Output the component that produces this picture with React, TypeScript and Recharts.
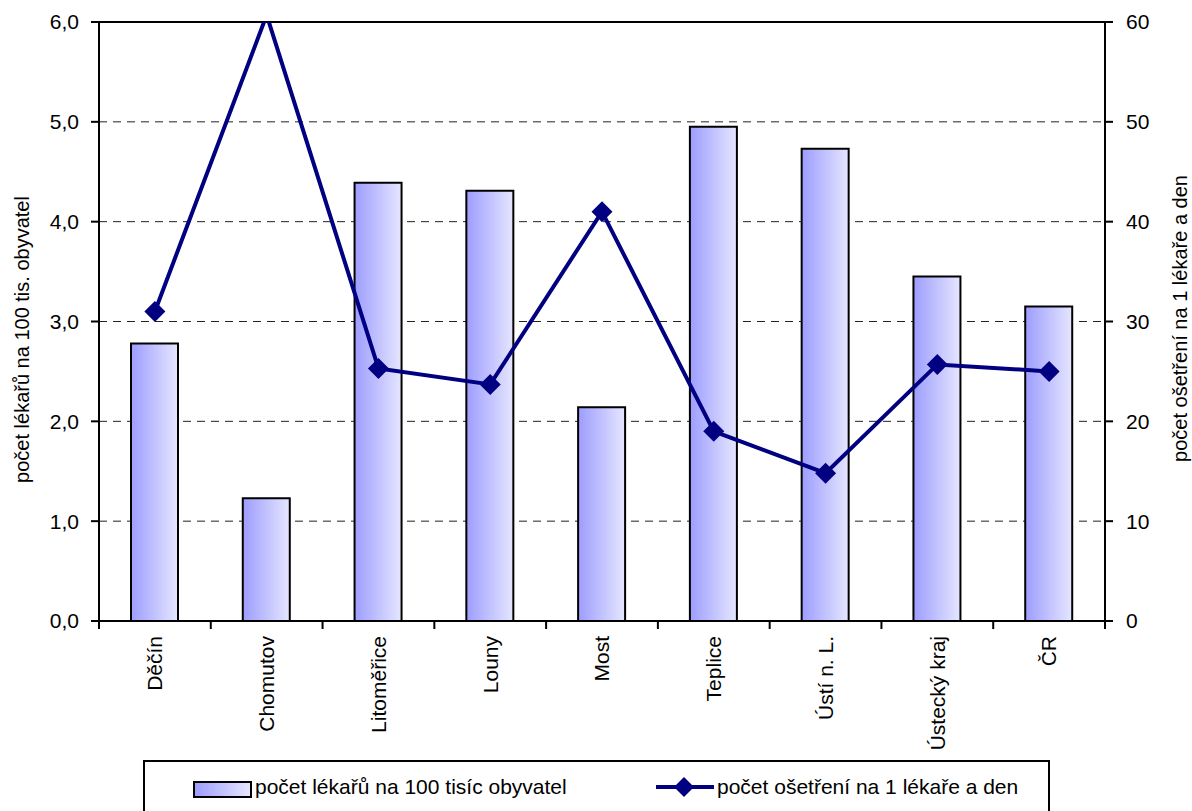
import React from 'react';
import { ComposedChart, Bar, Line, XAxis, YAxis, CartesianGrid, ReferenceLine, Legend } from 'recharts';

// districts of Ústecký kraj + region + whole country
const districts = ['Děčín', 'Chomutov', 'Litoměřice', 'Louny', 'Most', 'Teplice', 'Ústí n. L.', 'Ústecký kraj', 'ČR'];
const doctorsPer100k = [2.78, 1.23, 4.39, 4.31, 2.14, 4.95, 4.73, 3.45, 3.15];
const treatmentsPerDoctorDay = [31.0, 60.7, 25.3, 23.7, 41.0, 19.0, 14.8, 25.7, 25.0];
const leftTicks = [0, 1, 2, 3, 4, 5, 6];
const rightTicks = [0, 10, 20, 30, 40, 50, 60];

const barName = 'počet lékařů na 100 tisíc obyvatel';
const lineName = 'počet ošetření na 1 lékaře a den';
const leftTitle = 'počet lékařů na 100 tis. obyvatel';
const rightTitle = 'počet ošetření na 1 lékaře a den';

const data = districts.map((name, i) => ({
  name,
  doctors: doctorsPer100k[i],
  treatments: treatmentsPerDoctorDay[i],
}));

const W = 1192;
const H = 811;
const LEFT_W = 99;
const RIGHT_W = 87;
const TOP = 22;
const XAXIS_H = 190;
const BAND = (W - LEFT_W - RIGHT_W) / districts.length;
const FONT = '"Liberation Sans", Arial, sans-serif';
const NAVY = '#000080';

function CategoryTick(props: any) {
  const { x, y, payload, index } = props;
  const half = BAND / 2;
  return (
    <g>
      <line x1={x - half} y1={y} x2={x - half} y2={y + 8} stroke="#000" strokeWidth={2} />
      {index === districts.length - 1 && (
        <line x1={x + half} y1={y} x2={x + half} y2={y + 8} stroke="#000" strokeWidth={2} />
      )}
      <text
        x={x}
        y={y + 15}
        transform={`rotate(-90, ${x}, ${y + 15})`}
        textAnchor="end"
        dy="0.35em"
        fontSize={21}
        fontFamily={FONT}
        fill="#000"
      >
        {payload.value}
      </text>
    </g>
  );
}

function Diamond(props: any) {
  const { cx, cy, value } = props;
  if (cx == null || cy == null || value > 60) return null;
  const r = 10.5;
  return (
    <polygon
      points={`${cx},${cy - r} ${cx + r},${cy} ${cx},${cy + r} ${cx - r},${cy}`}
      fill={NAVY}
    />
  );
}

function axisTitle(text: string, cx: number, dy: number) {
  return (props: any) => {
    const vb = props.viewBox || {};
    const cy = (vb.y ?? TOP) + (vb.height ?? H - TOP - XAXIS_H) / 2 + dy;
    return (
      <text
        x={cx}
        y={cy}
        transform={`rotate(-90, ${cx}, ${cy})`}
        textAnchor="middle"
        dominantBaseline="central"
        fontSize={20}
        fontFamily={FONT}
        fill="#000"
      >
        {text}
      </text>
    );
  };
}

function ChartLegend() {
  return (
    <div
      style={{
        position: 'relative',
        width: 907,
        height: 64,
        border: '2px solid #000',
        boxSizing: 'border-box',
        background: '#fff',
        fontFamily: FONT,
        fontSize: 21,
        color: '#000',
      }}
    >
      <div
        style={{
          position: 'absolute',
          left: 48,
          top: 19,
          width: 59,
          height: 17,
          border: '2px solid #000',
          boxSizing: 'border-box',
          background: 'linear-gradient(to right, #9d9dff, #e6e6ff)',
        }}
      />
      <div style={{ position: 'absolute', left: 110, top: 12, lineHeight: '26px', whiteSpace: 'nowrap' }}>{barName}</div>
      <svg style={{ position: 'absolute', left: 510, top: 12 }} width={60} height={26}>
        <line x1={1} y1={13} x2={59} y2={13} stroke={NAVY} strokeWidth={4} />
        <polygon points="29,3 39,13 29,23 19,13" fill={NAVY} />
      </svg>
      <div style={{ position: 'absolute', left: 572, top: 12, lineHeight: '26px', whiteSpace: 'nowrap' }}>{lineName}</div>
    </div>
  );
}

export default function App() {
  return (
    <div style={{ position: 'absolute', left: 0, top: 0, width: W, height: H, overflow: 'hidden', background: '#fff' }}>
      <ComposedChart width={W} height={H} data={data} margin={{ top: TOP, right: 0, bottom: 0, left: 0 }}>
        <defs>
          <linearGradient id="barGrad" x1="0" y1="0" x2="1" y2="0">
            <stop offset="0%" stopColor="#9d9dff" />
            <stop offset="100%" stopColor="#e6e6ff" />
          </linearGradient>
        </defs>
        <CartesianGrid yAxisId="left" vertical={false} stroke="#222" strokeDasharray="8 6" />
        <XAxis
          dataKey="name"
          height={XAXIS_H}
          interval={0}
          tickSize={0}
          tickMargin={0}
          tickLine={false}
          axisLine={{ stroke: '#000', strokeWidth: 2 }}
          tick={<CategoryTick />}
        />
        <YAxis
          yAxisId="left"
          width={LEFT_W}
          domain={[0, 6]}
          ticks={leftTicks}
          tickFormatter={(v: number) => v.toFixed(1).replace('.', ',')}
          tickSize={8}
          tickMargin={12}
          axisLine={{ stroke: '#000', strokeWidth: 2 }}
          tickLine={{ stroke: '#000', strokeWidth: 2 }}
          tick={{ fontSize: 21, fontFamily: FONT, fill: '#000' }}
          label={{ content: axisTitle(leftTitle, 22, 18) }}
        />
        <YAxis
          yAxisId="right"
          orientation="right"
          width={RIGHT_W}
          domain={[0, 60]}
          allowDataOverflow
          ticks={rightTicks}
          tickSize={8}
          tickMargin={13}
          axisLine={{ stroke: '#000', strokeWidth: 2 }}
          tickLine={{ stroke: '#000', strokeWidth: 2 }}
          tick={{ fontSize: 21, fontFamily: FONT, fill: '#000' }}
          label={{ content: axisTitle(rightTitle, 1180, -3) }}
        />
        <ReferenceLine yAxisId="left" y={6} stroke="#000" strokeWidth={2} />
        <Bar
          yAxisId="left"
          dataKey="doctors"
          name={barName}
          barSize={47}
          fill="url(#barGrad)"
          stroke="#000"
          strokeWidth={2}
          isAnimationActive={false}
        />
        <Line
          yAxisId="right"
          dataKey="treatments"
          name={lineName}
          type="linear"
          stroke={NAVY}
          strokeWidth={4}
          dot={<Diamond />}
          activeDot={false}
          isAnimationActive={false}
        />
        <Legend
          layout="horizontal"
          verticalAlign="middle"
          align="center"
          wrapperStyle={{ left: 143, top: 760, width: 907, height: 64 }}
          content={() => <ChartLegend />}
        />
      </ComposedChart>
    </div>
  );
}
